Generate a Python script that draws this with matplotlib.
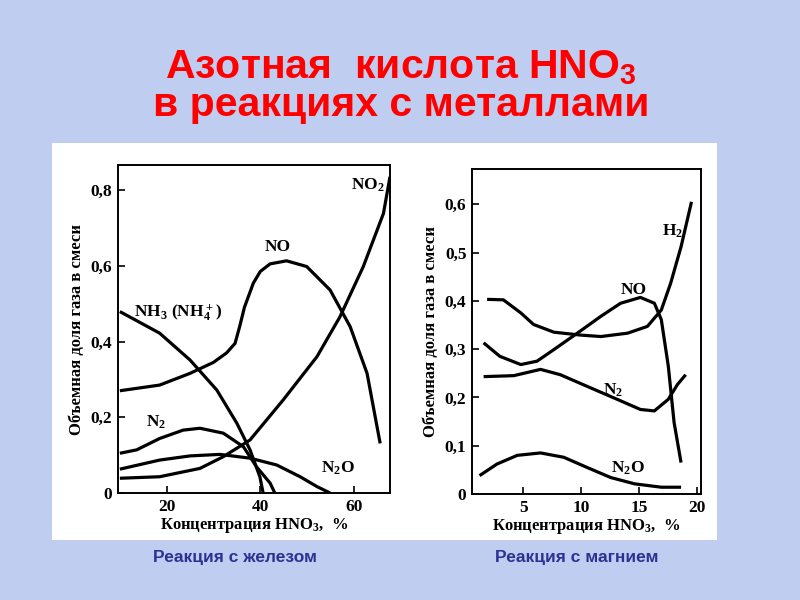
import matplotlib
matplotlib.use('Agg')
import matplotlib.pyplot as plt
from matplotlib.patches import Rectangle

plt.rcParams['mathtext.fontset'] = 'custom'
plt.rcParams['mathtext.rm'] = 'Liberation Serif'
plt.rcParams['mathtext.bf'] = 'Liberation Serif:bold'
plt.rcParams['mathtext.sf'] = 'Liberation Sans:bold'

# --- left chart: reaction with iron (x = HNO3 %, y = volume fraction) ---
fe_no2_x = [10.0, 18.5, 27.1, 32.1, 37.8, 44.9, 52.1, 57.0, 62.0, 66.3, 67.7]
fe_no2_y = [0.039, 0.043, 0.065, 0.096, 0.140, 0.246, 0.360, 0.465, 0.598, 0.738, 0.835]

fe_no_x = [10.0, 18.5, 25.0, 30.0, 32.8, 34.6, 35.6, 36.6, 38.5, 40.0, 42.1, 45.6, 49.9, 54.9, 59.2, 62.8, 65.6]
fe_no_y = [0.270, 0.285, 0.316, 0.345, 0.370, 0.395, 0.440, 0.490, 0.554, 0.585, 0.605, 0.613, 0.598, 0.536, 0.439, 0.316, 0.131]

fe_nh3_x = [10.0, 18.5, 25.0, 30.7, 35.0, 37.8, 39.9, 40.6]
fe_nh3_y = [0.479, 0.422, 0.351, 0.272, 0.184, 0.114, 0.043, 0.0]

fe_n2_x = [10.0, 13.6, 18.5, 23.5, 27.1, 32.1, 36.4, 39.2, 42.1, 43.1]
fe_n2_y = [0.105, 0.114, 0.144, 0.166, 0.171, 0.158, 0.122, 0.069, 0.026, 0.0]

fe_n2o_x = [10.0, 18.5, 25.0, 31.4, 37.8, 43.5, 48.5, 52.1, 54.9]
fe_n2o_y = [0.063, 0.087, 0.098, 0.102, 0.092, 0.074, 0.043, 0.017, 0.0]

# --- right chart: reaction with magnesium ---
mg_h2_x = [1.9, 3.3, 4.8, 5.9, 7.65, 9.96, 11.7, 14.0, 15.7, 16.9, 17.7, 18.6, 19.5]
mg_h2_y = [0.403, 0.402, 0.375, 0.351, 0.335, 0.329, 0.326, 0.333, 0.347, 0.381, 0.436, 0.512, 0.605]

mg_no_x = [1.6, 3.0, 4.8, 6.2, 7.65, 9.67, 11.7, 13.4, 15.1, 16.3, 16.9, 17.5, 18.0, 18.6]
mg_no_y = [0.313, 0.285, 0.268, 0.275, 0.299, 0.333, 0.368, 0.395, 0.407, 0.395, 0.361, 0.265, 0.148, 0.065]

mg_n2_x = [1.6, 4.2, 6.5, 8.2, 10.5, 13.1, 15.1, 16.3, 17.5, 18.3, 19.0]
mg_n2_y = [0.243, 0.245, 0.258, 0.247, 0.223, 0.196, 0.175, 0.172, 0.196, 0.227, 0.247]

mg_n2o_x = [1.25, 2.75, 4.5, 6.5, 8.5, 10.5, 12.55, 14.6, 16.9, 18.6]
mg_n2o_y = [0.038, 0.062, 0.080, 0.085, 0.076, 0.055, 0.034, 0.021, 0.014, 0.014]

fe_xticks = [20, 40, 60]
fe_yticks = [0, 0.2, 0.4, 0.6, 0.8]
fe_ylabels = ['0', '0,2', '0,4', '0,6', '0,8']
mg_xticks = [5, 10, 15, 20]
mg_yticks = [0, 0.1, 0.2, 0.3, 0.4, 0.5, 0.6]
mg_ylabels = ['0', '0,1', '0,2', '0,3', '0,4', '0,5', '0,6']

ylab = 'Объемная доля газа в смеси'
xlab = 'Концентрация HNO$\\mathbf{_3}$,  %'

fig = plt.figure(figsize=(8, 6), dpi=100)
fig.patch.set_facecolor('#bfcdf0')

# white panel behind the two scanned-style charts
fig.patches.append(Rectangle((0.065, 0.1), 0.831, 0.662, transform=fig.transFigure,
                             facecolor='white', edgecolor='none', zorder=-1))

fig.text(0.501, 0.870, 'Азотная  кислота HNO$\\mathsf{_3}$', ha='center', va='baseline',
         color='#ff0000', fontsize=29.5, fontweight='bold', family='Liberation Sans')
fig.text(0.501, 0.807, 'в реакциях с металлами', ha='center', va='baseline',
         color='#ff0000', fontsize=29.5, fontweight='bold', family='Liberation Sans')

fig.text(0.294, 0.063, 'Реакция с железом', ha='center', va='baseline',
         color='#2e3192', fontsize=12.5, fontweight='bold', family='Liberation Sans')
fig.text(0.619, 0.063, 'Реакция с магнием', ha='left', va='baseline',
         color='#2e3192', fontsize=12.5, fontweight='bold', family='Liberation Sans')

serif = 'Liberation Serif'
lw = 2.3


def style(ax, xticks, yticks, ylabels):
    ax.set_facecolor('white')
    for s in ax.spines.values():
        s.set_linewidth(1.4)
    ax.set_xticks(xticks)
    ax.set_yticks(yticks)
    ax.set_yticklabels(ylabels)
    ax.tick_params(direction='in', length=5, width=1.2, pad=4, labelsize=12.5)
    for t in ax.get_xticklabels() + ax.get_yticklabels():
        t.set_family(serif)
        t.set_fontweight('bold')
    ax.set_xlabel(xlab, family=serif, fontweight='bold', fontsize=12, labelpad=1)
    ax.set_ylabel(ylab, family=serif, fontweight='bold', fontsize=12, labelpad=4)


ax1 = fig.add_axes([0.1475, 0.1783, 0.34, 0.5467])
ax1.set_zorder(2)
for xs, ys in [(fe_no2_x, fe_no2_y), (fe_no_x, fe_no_y), (fe_nh3_x, fe_nh3_y),
               (fe_n2_x, fe_n2_y), (fe_n2o_x, fe_n2o_y)]:
    ax1.plot(xs, ys, color='black', lw=lw, solid_joinstyle='round', solid_capstyle='butt')
ax1.set_xlim(9.6, 67.7)
ax1.set_ylim(0, 0.866)
style(ax1, fe_xticks, fe_yticks, fe_ylabels)

lab = dict(family=serif, fontweight='bold', fontsize=12.5, color='black')
ax1.text(59.3, 0.80, 'NO$\\mathbf{_2}$', **lab)
ax1.text(41.0, 0.64, 'NO', **lab)
ax1.text(13.0, 0.465, 'NH$\\mathbf{_3}$ (NH$\\mathbf{_4^+}$)', **lab)
ax1.text(15.5, 0.175, 'N$\\mathbf{_2}$', **lab)
ax1.text(53.0, 0.055, 'N$\\mathbf{_2}$O', **lab)

ax2 = fig.add_axes([0.59, 0.1767, 0.286, 0.5417])
ax2.set_zorder(2)
for xs, ys in [(mg_h2_x, mg_h2_y), (mg_no_x, mg_no_y), (mg_n2_x, mg_n2_y),
               (mg_n2o_x, mg_n2o_y)]:
    ax2.plot(xs, ys, color='black', lw=lw, solid_joinstyle='round', solid_capstyle='butt')
ax2.set_xlim(0.6, 20.3)
ax2.set_ylim(0, 0.673)
style(ax2, mg_xticks, mg_yticks, mg_ylabels)

ax2.text(17.0, 0.535, 'H$\\mathbf{_2}$', **lab)
ax2.text(13.4, 0.415, 'NO', **lab)
ax2.text(11.9, 0.205, 'N$\\mathbf{_2}$', **lab)
ax2.text(12.6, 0.045, 'N$\\mathbf{_2}$O', **lab)

fig.savefig('out.png', dpi=100, facecolor=fig.get_facecolor())
